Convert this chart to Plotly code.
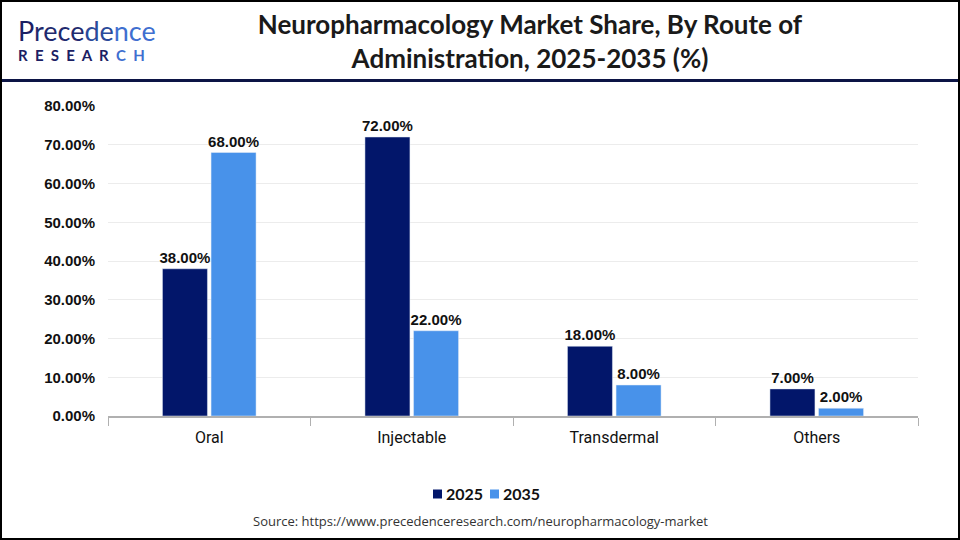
import plotly.graph_objects as go

categories = ["Oral", "Injectable", "Transdermal", "Others"]
years = ["2025", "2035"]
values_2025 = [38.0, 72.0, 18.0, 7.0]
values_2035 = [68.0, 22.0, 8.0, 2.0]
y_ticks = [0, 10, 20, 30, 40, 50, 60, 70, 80]
y_tick_labels = [f"{v:.2f}%" for v in y_ticks]

W, H = 960, 540
L, R, T, B = 108, 42, 106, 124
PW, PH = W - L - R, H - T - B

def px(x):
    return (x - L) / PW

def py(y):
    return (H - B - y) / PH

colors = ["#02166A", "#4892EA"]
fig = go.Figure()
for name, vals, col in zip(years, [values_2025, values_2035], colors):
    fig.add_trace(go.Bar(
        x=categories, y=vals, name=name, marker_color=col,
        text=[f"{v:.2f}%" for v in vals], textposition="outside",
        constraintext="none",
        textfont=dict(family="Liberation Sans", size=15, color="#111111", weight="bold"),
        cliponaxis=False, showlegend=False,
    ))

fig.update_layout(
    width=W, height=H,
    margin=dict(l=L, r=R, t=T, b=B),
    paper_bgcolor="white", plot_bgcolor="white",
    barmode="group", bargap=0.52, bargroupgap=0.074,
    title=dict(text="Neuropharmacology Market Share, By Route of<br>Administration, 2025-2035 (%)",
               x=530 / W, xanchor="center", y=1 - 34 / H, yanchor="middle",
               font=dict(family="Lato", size=26, color="#1a1a1a", weight="bold")),
    xaxis=dict(showline=True, linecolor="#b0b0b0", linewidth=2, ticks="outside",
               tickson="boundaries", ticklen=8, tickcolor="#b0b0b0", tickwidth=1,
               ticklabelstandoff=6,
               tickfont=dict(family="Roboto", size=16, color="#111111"), fixedrange=True),
    yaxis=dict(range=[0, 80], tickvals=y_ticks, ticktext=y_tick_labels,
               showgrid=True, gridcolor="#ececec", gridwidth=1, zeroline=False,
               tickfont=dict(family="Liberation Sans", size=15, color="#111111", weight="bold"),
               ticklabelstandoff=12),
)

# compact legend (squares + labels) built from the series names/colours
legend_x = [433, 490]
for name, col, lx in zip(years, colors, legend_x):
    fig.add_shape(type="rect", xref="paper", yref="paper",
                  x0=px(lx), x1=px(lx + 9), y0=py(498.5), y1=py(489.5),
                  line=dict(width=0), fillcolor=col)
    fig.add_annotation(xref="paper", yref="paper", x=px(lx + 11), y=py(494), xanchor="left",
                       yanchor="middle", text=f"<b>{name}</b>", showarrow=False,
                       font=dict(family="Lato", size=16, color="#111111"))

# header separator line and frame
fig.add_shape(type="line", xref="paper", yref="paper", x0=px(0), x1=px(W), y0=py(80.5), y1=py(80.5),
              line=dict(color="#0c1445", width=3))
fig.add_shape(type="rect", xref="paper", yref="paper", x0=px(1), x1=px(959), y0=py(1), y1=py(539),
              line=dict(color="#000000", width=2))

# logo
nb = "&nbsp;&nbsp;"
logo = (
    "<span style='font-size:27px'><span style='color:#1b2063'>P</span><span style='color:#1f2a6e'>rece</span>"
    "<span style='color:#2a4a9a'>de</span><span style='color:#3f6fd0'>nce</span></span><br>"
    "<span style='font-size:15px'><b><span style='color:#1b2063'>"
    + nb.join("RESEAR") + nb + "</span><span style='color:#3f6fd0'>C" + nb + "H</span></b></span>"
)
fig.add_annotation(xref="paper", yref="paper", x=px(16), y=py(39), xanchor="left", yanchor="middle",
                   align="left", text=logo, showarrow=False,
                   font=dict(family="Lato", size=15, color="#1b2063"))

# source
fig.add_annotation(xref="paper", yref="paper", x=px(480), y=py(521), xanchor="center", yanchor="middle",
                   text="Source: https://www.precedenceresearch.com/neuropharmacology-market",
                   showarrow=False, font=dict(family="Open Sans", size=13, color="#333333"))

fig.write_html("out.html")
